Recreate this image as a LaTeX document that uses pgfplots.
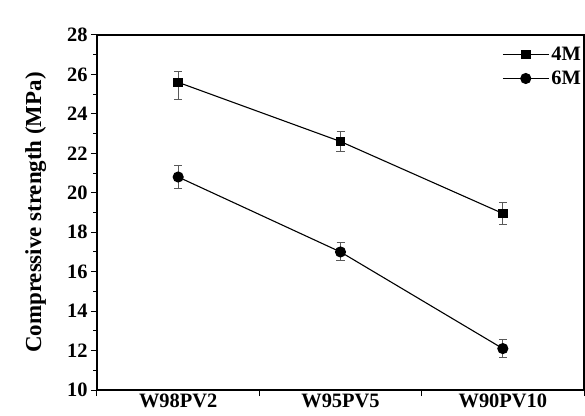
\documentclass[border=0pt]{standalone}
\usepackage{fontspec}
\setmainfont{Liberation Serif}
\usepackage{pgfplots}
\pgfplotsset{compat=1.18}
\begin{document}
\begin{tikzpicture}
\begin{axis}[
  name=ax,
  scale only axis,
  width=487bp, height=355bp,
  xmin=-0.5, xmax=2.5, ymin=10, ymax=28,
  axis line style={line width=1.3bp},
  xtick={-0.5,0.5,1.5,2.5}, xticklabels={},
  extra x ticks={0,1,2},
  extra x tick labels={W98PV2,W95PV5,W90PV10},
  extra x tick style={major tick length=0pt},
  ytick={10,12,...,28},
  minor y tick num=1,
  tick align=outside,
  xtick pos=bottom, ytick pos=left,
  major tick length=6bp, minor tick length=3.5bp,
  tick style={black, line width=1bp},
  /pgf/number format/assume math mode=true,
  ticklabel style={font=\fontsize{20.5}{22}\selectfont\bfseries},
  ylabel={Compressive strength (MPa)},
  ylabel style={font=\fontsize{23}{25}\selectfont\bfseries, yshift=14bp},
  legend style={draw=none, fill=none, at={(1,0.975)}, anchor=north east,
    font=\fontsize{20.5}{22}\selectfont\bfseries, row sep=5bp, inner sep=1bp},
  legend cell align=left,
  legend image code/.code={
    \draw[mark repeat=2,mark phase=2] plot coordinates {(0bp,0bp)(23bp,0bp)(46bp,0bp)};
  },
  error bars/y dir=both,
  error bars/y explicit,
  error bars/error bar style={black!65, line width=0.8bp},
  error bars/error mark options={rotate=90, mark size=4bp, black!65, line width=0.8bp},
]
\addplot[black, line width=1.1bp, mark=square*, mark size=4.2bp,
  mark options={solid}] coordinates {
  (0,25.6) += (0,0.55) -= (0,0.85)
  (1,22.6) += (0,0.5) -= (0,0.5)
  (2,18.95) += (0,0.55) -= (0,0.55)
};
\addlegendentry{4M}
\addplot[black, line width=1.1bp, mark=*, mark size=5bp,
  mark options={solid}] coordinates {
  (0,20.8) += (0,0.6) -= (0,0.6)
  (1,17.0) += (0,0.5) -= (0,0.45)
  (2,12.1) += (0,0.47) -= (0,0.47)
};
\addlegendentry{6M}
\end{axis}
\pgfresetboundingbox
\path[use as bounding box] ([xshift=-97bp,yshift=-26bp]ax.south west) rectangle ([xshift=1bp,yshift=35bp]ax.north east);
\end{tikzpicture}
\end{document}
